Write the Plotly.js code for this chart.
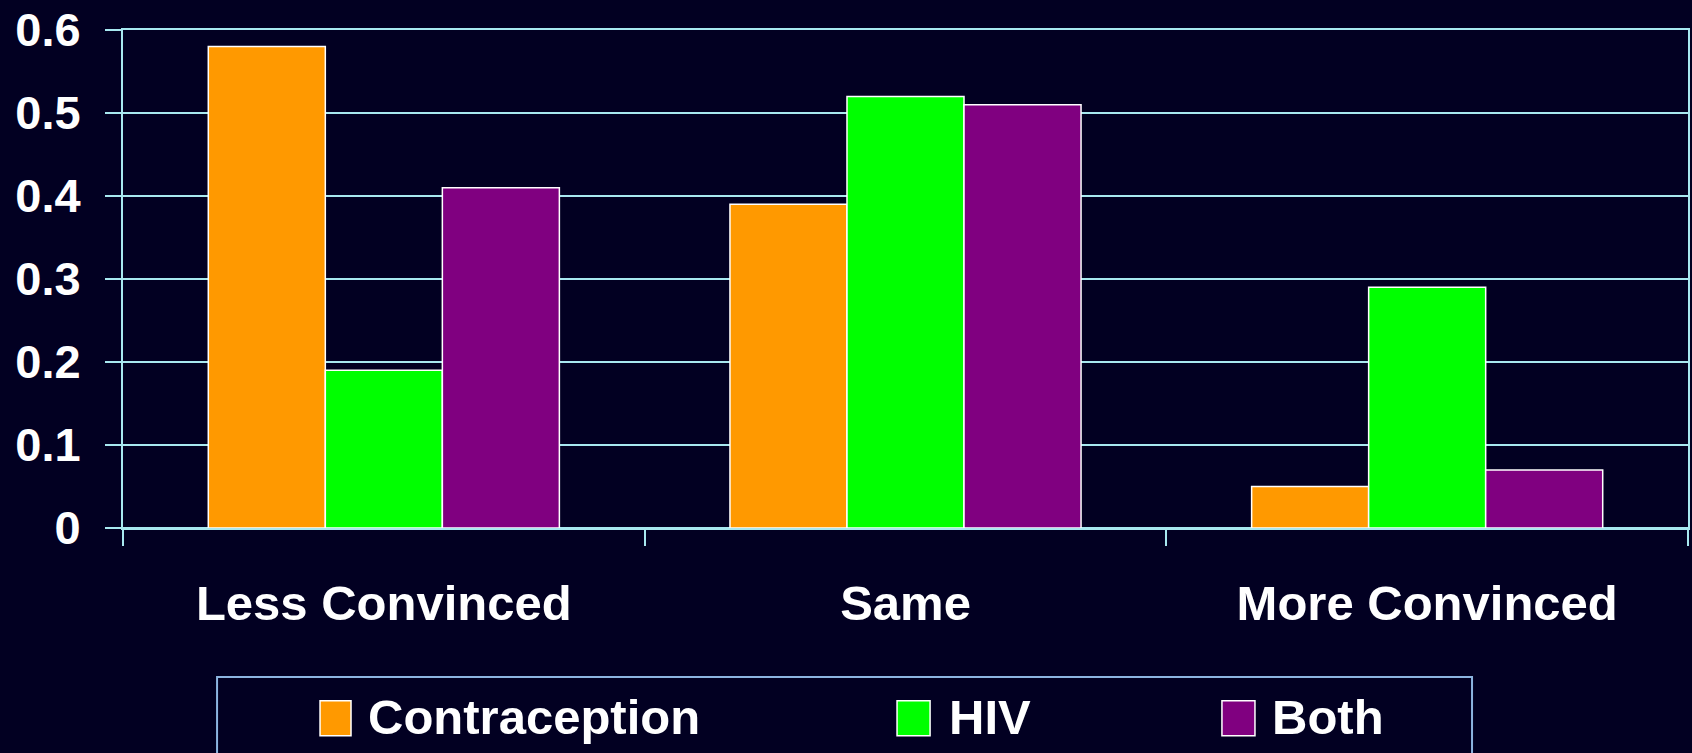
<!DOCTYPE html>
<html>
<head>
<meta charset="utf-8">
<script src="https://cdn.plot.ly/plotly-3.0.1.min.js"></script>
<style>
html,body{margin:0;padding:0;background:#020022;}
#chart{width:1692px;height:753px;}
</style>
</head>
<body>
<div id="chart"></div>
<script>
// ---- data ----
const categories = ['Less Convinced', 'Same', 'More Convinced'];
const seriesNames = ['Contraception', 'HIV', 'Both'];
const contraception = [0.58, 0.39, 0.05];
const hiv = [0.19, 0.52, 0.29];
const both = [0.41, 0.51, 0.07];
const yTickVals = [0, 0.1, 0.2, 0.3, 0.4, 0.5, 0.6];
const yTickText = ['0', '0.1', '0.2', '0.3', '0.4', '0.5', '0.6'];

// ---- style ----
const colors = ['#FF9900', '#00FF00', '#800080'];
const lineCol = '#A8E8F0';
const bg = '#020022';
const fontFam = 'Liberation Sans, Arial, Helvetica, sans-serif';

const seriesValues = [contraception, hiv, both];
const traces = seriesValues.map((vals, i) => ({
  type: 'bar',
  name: seriesNames[i],
  x: categories,
  y: vals,
  marker: {color: colors[i], line: {color: '#FFFFFF', width: 1.5}},
  showlegend: false,
  hoverinfo: 'x+y+name'
}));

// manual legend (large squares) built from series names/colors
const legendSquares = [[0.1259, 0.1457], [0.4946, 0.5157], [0.7022, 0.7233]];
const legendTextX = [0.1553, 0.5265, 0.7329];
const shapes = [{
  type: 'rect', xref: 'paper', yref: 'paper',
  x0: 0.0601, x1: 0.862, y0: -0.299, y1: -0.52,
  line: {color: '#8CB4E0', width: 2}, fillcolor: 'rgba(0,0,0,0)'
}];
const annotations = [];
seriesNames.forEach((n, i) => {
  shapes.push({
    type: 'rect', xref: 'paper', yref: 'paper',
    x0: legendSquares[i][0], x1: legendSquares[i][1], y0: -0.347, y1: -0.417,
    line: {color: '#FFFFFF', width: 1.5}, fillcolor: colors[i]
  });
  annotations.push({
    xref: 'paper', yref: 'paper', x: legendTextX[i], y: -0.380,
    xanchor: 'left', yanchor: 'middle', showarrow: false,
    text: '<b>' + n + '</b>',
    font: {family: fontFam, size: 49, color: '#FFFFFF'}
  });
});

const layout = {
  width: 1692, height: 753,
  paper_bgcolor: bg, plot_bgcolor: bg,
  margin: {l: 123, r: 4, t: 30, b: 225, pad: 0},
  barmode: 'group',
  bargap: 0.327, bargroupgap: 0,
  font: {family: fontFam, color: '#FFFFFF'},
  xaxis: {
    type: 'category',
    showline: true, linecolor: lineCol, linewidth: 2, mirror: true,
    ticks: 'outside', tickson: 'boundaries', ticklen: 16, tickwidth: 2, tickcolor: lineCol,
    showgrid: false,
    tickfont: {family: fontFam, size: 49, color: '#FFFFFF', weight: 'bold'},
    ticklabelstandoff: 31
  },
  yaxis: {
    range: [0, 0.6],
    tickvals: yTickVals, ticktext: yTickText,
    showline: true, linecolor: lineCol, linewidth: 2, mirror: true,
    ticks: 'outside', ticklen: 16, tickwidth: 2, tickcolor: lineCol,
    showgrid: true, gridcolor: lineCol, gridwidth: 2,
    zeroline: true, zerolinecolor: lineCol, zerolinewidth: 2,
    tickfont: {family: fontFam, size: 47, color: '#FFFFFF', weight: 'bold'},
    ticklabelstandoff: 15
  },
  shapes: shapes,
  annotations: annotations
};

Plotly.newPlot('chart', traces, layout, {displayModeBar: false, staticPlot: true});
</script>
</body>
</html>
